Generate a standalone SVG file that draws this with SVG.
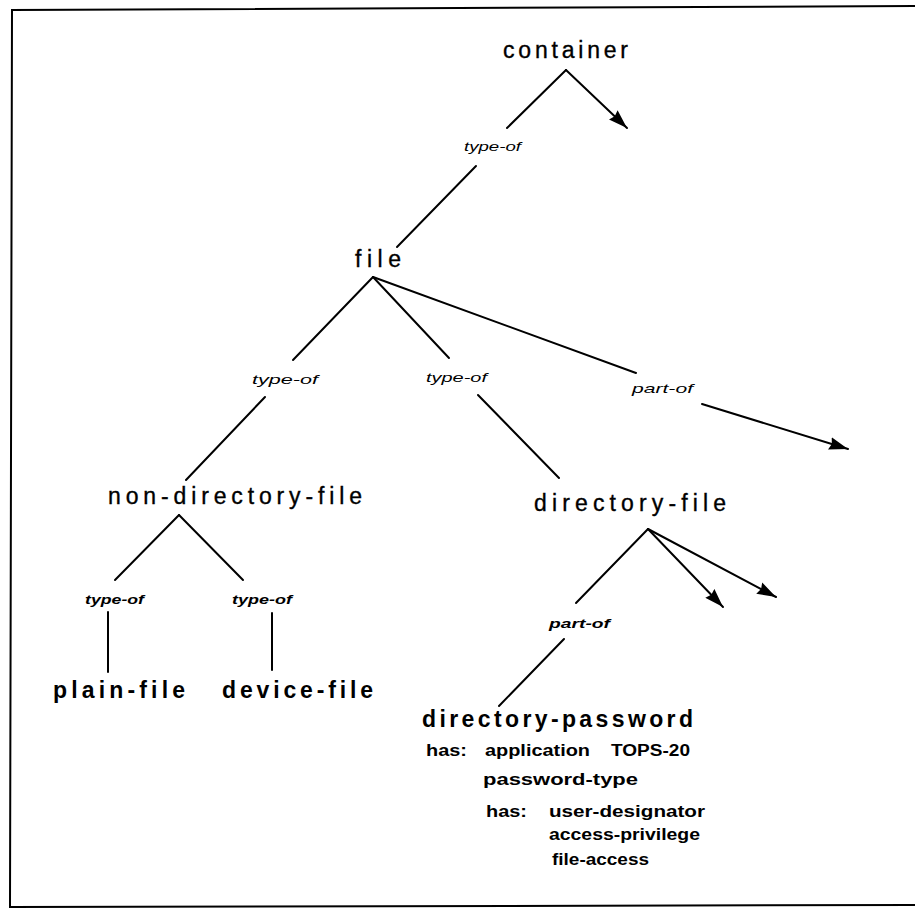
<svg xmlns="http://www.w3.org/2000/svg" width="915" height="910" viewBox="0 0 915 910">
<defs>
<marker id="arr" viewBox="0 0 18 12" refX="18" refY="6" markerWidth="19" markerHeight="13" markerUnits="userSpaceOnUse" orient="auto">
<path d="M0,0 L18,6 L0,12 L2,6 z" fill="#000"/>
</marker>
<style>
.node{font-family:"Liberation Sans",Arial,sans-serif;font-size:23px;fill:#000;stroke:#000;stroke-width:0.35}
.bold{font-size:23px;font-weight:bold;stroke-width:0}
.lbl{font-family:"Liberation Sans",Arial,sans-serif;font-size:13px;font-style:italic;fill:#000}
.lblb{font-weight:bold}
.attr{font-family:"Liberation Sans",Arial,sans-serif;font-size:16px;font-weight:bold;fill:#000}
.edge{stroke:#000;stroke-width:2;fill:none;stroke-linecap:round}
.arrow{marker-end:url(#arr)}
</style>
</defs>
<rect width="915" height="910" fill="#fff"/>
<g id="frame" fill="none" stroke="#000" stroke-width="2">
<path d="M915,6 L12,10 L10,907 L915,905"/>
</g>
<g id="connectors">
<line class="edge" x1="566" y1="70" x2="507" y2="128"/>
<line class="edge arrow" x1="566" y1="70" x2="627" y2="128"/>
<line class="edge" x1="476" y1="166" x2="397" y2="247"/>
<line class="edge" x1="373" y1="277" x2="293" y2="360"/>
<line class="edge" x1="265" y1="397" x2="186" y2="480"/>
<line class="edge" x1="373" y1="277" x2="449" y2="358"/>
<line class="edge" x1="478" y1="395" x2="559" y2="478"/>
<line class="edge" x1="373" y1="277" x2="636" y2="373"/>
<line class="edge arrow" x1="702" y1="404" x2="848" y2="449"/>
<line class="edge" x1="179" y1="515" x2="115" y2="580"/>
<line class="edge" x1="179" y1="515" x2="243" y2="580"/>
<line class="edge" x1="108" y1="612" x2="108" y2="672"/>
<line class="edge" x1="272" y1="613" x2="272" y2="670"/>
<line class="edge" x1="648" y1="529" x2="576" y2="603"/>
<line class="edge arrow" x1="648" y1="529" x2="723" y2="607"/>
<line class="edge arrow" x1="648" y1="529" x2="776" y2="597"/>
<line class="edge" x1="564" y1="639" x2="499" y2="706"/>
</g>
<g id="labels">
<text class="lbl" x="464" y="151" textLength="57" lengthAdjust="spacingAndGlyphs">type-of</text>
<text class="lbl" x="252" y="384" textLength="66" lengthAdjust="spacingAndGlyphs">type-of</text>
<text class="lbl" x="426" y="382" textLength="61" lengthAdjust="spacingAndGlyphs">type-of</text>
<text class="lbl" x="632" y="393" textLength="61" lengthAdjust="spacingAndGlyphs">part-of</text>
<text class="lbl lblb" x="85" y="604" textLength="59" lengthAdjust="spacingAndGlyphs">type-of</text>
<text class="lbl lblb" x="232" y="604" textLength="60" lengthAdjust="spacingAndGlyphs">type-of</text>
<text class="lbl lblb" x="549" y="628" textLength="61" lengthAdjust="spacingAndGlyphs">part-of</text>
</g>
<g id="container"><text class="node" x="503" y="58" textLength="125" lengthAdjust="spacing">container</text></g>
<g id="file"><text class="node" x="355" y="267" textLength="46" lengthAdjust="spacing">file</text></g>
<g id="non-directory-file"><text class="node" x="108" y="504" textLength="254" lengthAdjust="spacing">non-directory-file</text></g>
<g id="directory-file"><text class="node" x="534" y="511" textLength="192" lengthAdjust="spacing">directory-file</text></g>
<g id="plain-file"><text class="node bold" x="53" y="698" textLength="132" lengthAdjust="spacing">plain-file</text></g>
<g id="device-file"><text class="node bold" x="222" y="698" textLength="151" lengthAdjust="spacing">device-file</text></g>
<g id="directory-password">
<text class="node bold" x="422" y="727" textLength="271" lengthAdjust="spacing">directory-password</text>
<text class="attr" x="426" y="756" textLength="41" lengthAdjust="spacingAndGlyphs">has:</text>
<text class="attr" x="485" y="756" textLength="105" lengthAdjust="spacingAndGlyphs">application</text>
<text class="attr" x="611" y="756" textLength="79" lengthAdjust="spacingAndGlyphs">TOPS-20</text>
<text class="attr" x="483" y="785" textLength="155" lengthAdjust="spacingAndGlyphs">password-type</text>
<text class="attr" x="486" y="817" textLength="41" lengthAdjust="spacingAndGlyphs">has:</text>
<text class="attr" x="549" y="817" textLength="156" lengthAdjust="spacingAndGlyphs">user-designator</text>
<text class="attr" x="549" y="840" textLength="151" lengthAdjust="spacingAndGlyphs">access-privilege</text>
<text class="attr" x="552" y="865" textLength="97" lengthAdjust="spacingAndGlyphs">file-access</text>
</g>
</svg>
